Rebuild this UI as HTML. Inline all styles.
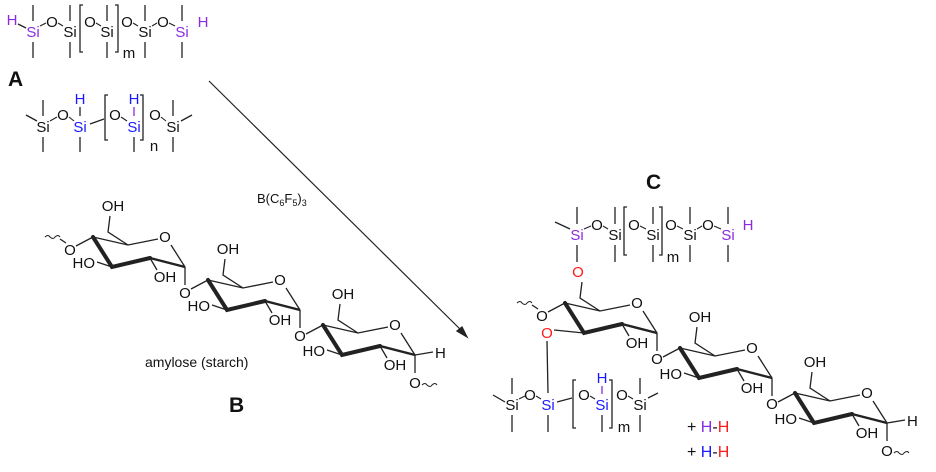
<!DOCTYPE html>
<html><head><meta charset="utf-8"><style>
html,body{margin:0;padding:0;background:#fff}
svg{display:block}
text{font-family:"Liberation Sans",Arial,sans-serif;font-size:15px;fill:#111}
.c{text-anchor:middle}
.e{text-anchor:end}
.p{fill:#8a2be2}.b{fill:#1a1aff}.r{fill:#ff1a1a}
.L{font-weight:bold;font-size:21px}
line,path{stroke:#222;stroke-width:1.3;fill:none}
.bd{stroke-width:4;stroke-linecap:round}
.md{stroke-width:2.4}
.s{stroke-width:1.1}
</style></head><body>
<svg width="936" height="472" viewBox="0 0 936 472" xmlns="http://www.w3.org/2000/svg">
<defs>
<g id="ring">
<path d="M0,0 L35,8 L65,2"/>
<path d="M78,8 L92,30"/>
<path class="bd" d="M0,0 L19,30 L57,21"/>
<path class="md" d="M57,21 L92,30"/>
<path d="M35,8 L15,-5 L17,-21"/>
<path d="M57,21 L64,33"/>
<text class="c" x="72" y="5">O</text>
<text class="c" x="72" y="45">OH</text>
<path d="M92,30 L92,48"/>
</g>
<g id="ohs">
<text class="c" x="20" y="-26">OH</text>
<path d="M19,30 L4,25"/>
<text class="e" x="2" y="31">HO</text>
<text class="c" x="92" y="61">O</text>
</g>
</defs>

<!-- A top siloxane -->
<g>
<text class="p c" x="12" y="25">H</text>
<line x1="18" y1="24" x2="26" y2="28"/>
<text class="p c" x="33" y="37">Si</text>
<line x1="33" y1="5" x2="33" y2="21"/><line x1="33" y1="42" x2="33" y2="58"/>
<line class="s" x1="40" y1="26" x2="46" y2="23"/>
<text class="c" x="52" y="27">O</text>
<line class="s" x1="58" y1="23" x2="63" y2="26"/>
<text class="c" x="70" y="37">Si</text>
<line x1="70" y1="5" x2="70" y2="21"/><line x1="70" y1="42" x2="70" y2="58"/>
<path d="M83,5 L80,5 L80,52 L83,52"/>
<text class="c" x="90" y="27">O</text>
<line class="s" x1="96" y1="23" x2="101" y2="26"/>
<text class="c" x="107" y="37">Si</text>
<line x1="107" y1="5" x2="107" y2="21"/><line x1="107" y1="42" x2="107" y2="58"/>
<path d="M115,5 L118,5 L118,52 L115,52"/>
<text class="c" x="129" y="58">m</text>
<text class="c" x="127" y="27">O</text>
<line class="s" x1="133" y1="23" x2="138" y2="26"/>
<text class="c" x="145" y="37">Si</text>
<line x1="145" y1="5" x2="145" y2="21"/><line x1="145" y1="42" x2="145" y2="58"/>
<line class="s" x1="152" y1="26" x2="157" y2="23"/>
<text class="c" x="163" y="27">O</text>
<line class="s" x1="169" y1="23" x2="175" y2="26"/>
<text class="p c" x="182" y="37">Si</text>
<line x1="182" y1="5" x2="182" y2="21"/><line x1="182" y1="42" x2="182" y2="58"/>
<text class="p c" x="203" y="27">H</text>
</g>
<text class="L" x="8" y="86">A</text>

<!-- second siloxane -->
<g>
<line x1="26" y1="115" x2="37" y2="121"/>
<text class="c" x="43" y="132">Si</text>
<line x1="43" y1="100" x2="43" y2="116"/><line x1="43" y1="137" x2="43" y2="152"/>
<line class="s" x1="50" y1="121" x2="57" y2="117"/>
<text class="c" x="63" y="120">O</text>
<line class="s" x1="69" y1="117" x2="74" y2="121"/>
<text class="b c" x="80" y="132">Si</text>
<text class="b c" x="80" y="104">H</text>
<line x1="80" y1="107" x2="80" y2="116"/><line x1="80" y1="137" x2="80" y2="152"/>
<line x1="90" y1="124" x2="104" y2="119"/>
<path d="M108,95 L105,95 L105,140 L108,140"/>
<text class="c" x="115" y="120">O</text>
<line class="s" x1="121" y1="117" x2="127" y2="121"/>
<text class="b c" x="134" y="132">Si</text>
<text class="b c" x="134" y="104">H</text>
<line x1="134" y1="107" x2="134" y2="116" style="stroke:#8a2be2"/><line x1="134" y1="137" x2="134" y2="152"/>
<path d="M140,95 L143,95 L143,140 L140,140"/>
<text class="c" x="154" y="151">n</text>
<text class="c" x="155" y="120">O</text>
<line class="s" x1="161" y1="117" x2="166" y2="121"/>
<text class="c" x="173" y="132">Si</text>
<line x1="173" y1="100" x2="173" y2="116"/><line x1="173" y1="137" x2="173" y2="152"/>
<line x1="181" y1="121" x2="192" y2="115"/>
</g>

<!-- arrow -->
<line x1="209" y1="81" x2="464" y2="333" style="stroke-width:1.2"/>
<path d="M467,337 L457,331 L462,327 Z" style="fill:#222"/>
<text x="257" y="203" style="font-size:13px">B(C<tspan style="font-size:9px" dy="3">6</tspan><tspan dy="-3">F</tspan><tspan style="font-size:9px" dy="3">5</tspan><tspan dy="-3">)</tspan><tspan style="font-size:9px" dy="3">3</tspan></text>

<!-- B amylose -->
<g transform="translate(93,237)">
<path d="M-48,0 q3,-3 5,0 q3,3 5,0 q3,-3 5,0" style="stroke-width:1"/>
<line x1="-33" y1="2" x2="-27" y2="6"/>
<text class="c" x="-23" y="18">O</text>
<line x1="-17" y1="9" x2="0" y2="0"/>
<use href="#ring"/><use href="#ohs"/>
</g>
<g transform="translate(208,280)"><use href="#ring"/><use href="#ohs"/>
<line x1="-17" y1="9" x2="0" y2="0"/></g>
<g transform="translate(323,325)"><use href="#ring"/>
<line x1="-17" y1="9" x2="0" y2="0"/>
<text class="c" x="20" y="-26">OH</text>
<path d="M19,30 L4,25"/><text class="e" x="2" y="31">HO</text>
<line x1="92" y1="30" x2="110" y2="27"/>
<text x="112" y="33">H</text>
<text class="c" x="92" y="63">O</text>
<path d="M99,60 q3,-3 5,0 q3,3 5,0 q3,-3 5,0" style="stroke-width:1"/>
</g>
<text x="145" y="367" style="font-size:14px">amylose (starch)</text>
<text class="L" x="229" y="412">B</text>

<!-- C -->
<text class="L" x="646" y="189">C</text>
<g>
<line x1="555" y1="222" x2="570" y2="229"/>
<text class="p c" x="577" y="240">Si</text>
<line x1="577" y1="207" x2="577" y2="224"/><line x1="577" y1="245" x2="577" y2="262"/>
<line class="s" x1="584" y1="229" x2="591" y2="226"/>
<text class="c" x="597" y="230">O</text>
<line class="s" x1="603" y1="226" x2="608" y2="229"/>
<text class="c" x="615" y="240">Si</text>
<line x1="615" y1="207" x2="615" y2="224"/><line x1="615" y1="245" x2="615" y2="262"/>
<path d="M627,207 L624,207 L624,255 L627,255"/>
<text class="c" x="634" y="230">O</text>
<line class="s" x1="640" y1="226" x2="646" y2="229"/>
<text class="c" x="653" y="240">Si</text>
<line x1="653" y1="207" x2="653" y2="224"/><line x1="653" y1="245" x2="653" y2="262"/>
<path d="M659,207 L662,207 L662,255 L659,255"/>
<text class="c" x="673" y="262">m</text>
<text class="c" x="671" y="230">O</text>
<line class="s" x1="677" y1="226" x2="683" y2="229"/>
<text class="c" x="690" y="240">Si</text>
<line x1="690" y1="207" x2="690" y2="224"/><line x1="690" y1="245" x2="690" y2="262"/>
<line class="s" x1="697" y1="229" x2="702" y2="226"/>
<text class="c" x="708" y="230">O</text>
<line class="s" x1="714" y1="226" x2="721" y2="229"/>
<text class="p c" x="728" y="240">Si</text>
<line x1="728" y1="207" x2="728" y2="224"/><line x1="728" y1="245" x2="728" y2="262"/>
<text class="p c" x="748" y="230">H</text>
<text class="r c" x="578" y="277">O</text>
</g>
<g transform="translate(565,303)">
<path d="M-48,0 q3,-3 5,0 q3,3 5,0 q3,-3 5,0" style="stroke-width:1"/>
<line x1="-33" y1="2" x2="-27" y2="6"/>
<text class="c" x="-23" y="18">O</text>
<line x1="-17" y1="9" x2="0" y2="0"/>
<use href="#ring"/>
<path d="M19,30 L-11,27"/>
<text class="c" x="92" y="61">O</text>
</g>
<text class="r c" x="547" y="338">O</text>
<line x1="547" y1="341" x2="548" y2="393"/>
<g>
<line x1="493" y1="395" x2="505" y2="402"/>
<text class="c" x="512" y="410">Si</text>
<line x1="512" y1="378" x2="512" y2="394"/><line x1="512" y1="415" x2="512" y2="432"/>
<line class="s" x1="519" y1="399" x2="525" y2="396"/>
<text class="c" x="530" y="400">O</text>
<line class="s" x1="536" y1="396" x2="541" y2="399"/>
<text class="b c" x="548" y="410">Si</text>
<line x1="548" y1="415" x2="548" y2="432"/>
<line x1="557" y1="402" x2="572" y2="398"/>
<path d="M576,380 L573,380 L573,428 L576,428"/>
<text class="c" x="584" y="400">O</text>
<line class="s" x1="590" y1="396" x2="595" y2="399"/>
<text class="b c" x="602" y="410">Si</text>
<text class="b c" x="602" y="383">H</text>
<line x1="602" y1="386" x2="602" y2="394" style="stroke:#8a2be2"/><line x1="602" y1="415" x2="602" y2="432"/>
<path d="M609,380 L612,380 L612,428 L609,428"/>
<text class="c" x="624" y="432">m</text>
<text class="c" x="622" y="400">O</text>
<line class="s" x1="628" y1="396" x2="633" y2="399"/>
<text class="c" x="640" y="410">Si</text>
<line x1="640" y1="378" x2="640" y2="394"/><line x1="640" y1="415" x2="640" y2="432"/>
<line x1="648" y1="398" x2="658" y2="393"/>
</g>
<text x="687" y="432" style="font-size:16px">+ <tspan class="p">H</tspan>-<tspan class="r">H</tspan></text>
<text x="687" y="457" style="font-size:16px">+ <tspan class="b">H</tspan>-<tspan class="r">H</tspan></text>
<g transform="translate(680,348)"><use href="#ring"/><use href="#ohs"/>
<line x1="-17" y1="9" x2="0" y2="0"/></g>
<g transform="translate(795,393)"><use href="#ring"/>
<line x1="-17" y1="9" x2="0" y2="0"/>
<text class="c" x="20" y="-26">OH</text>
<path d="M19,30 L4,25"/><text class="e" x="2" y="31">HO</text>
<line x1="92" y1="30" x2="110" y2="27"/>
<text x="112" y="33">H</text>
<text class="c" x="92" y="63">O</text>
<path d="M99,60 q3,-3 5,0 q3,3 5,0 q3,-3 5,0" style="stroke-width:1"/>
</g>
</svg>
</body></html>
